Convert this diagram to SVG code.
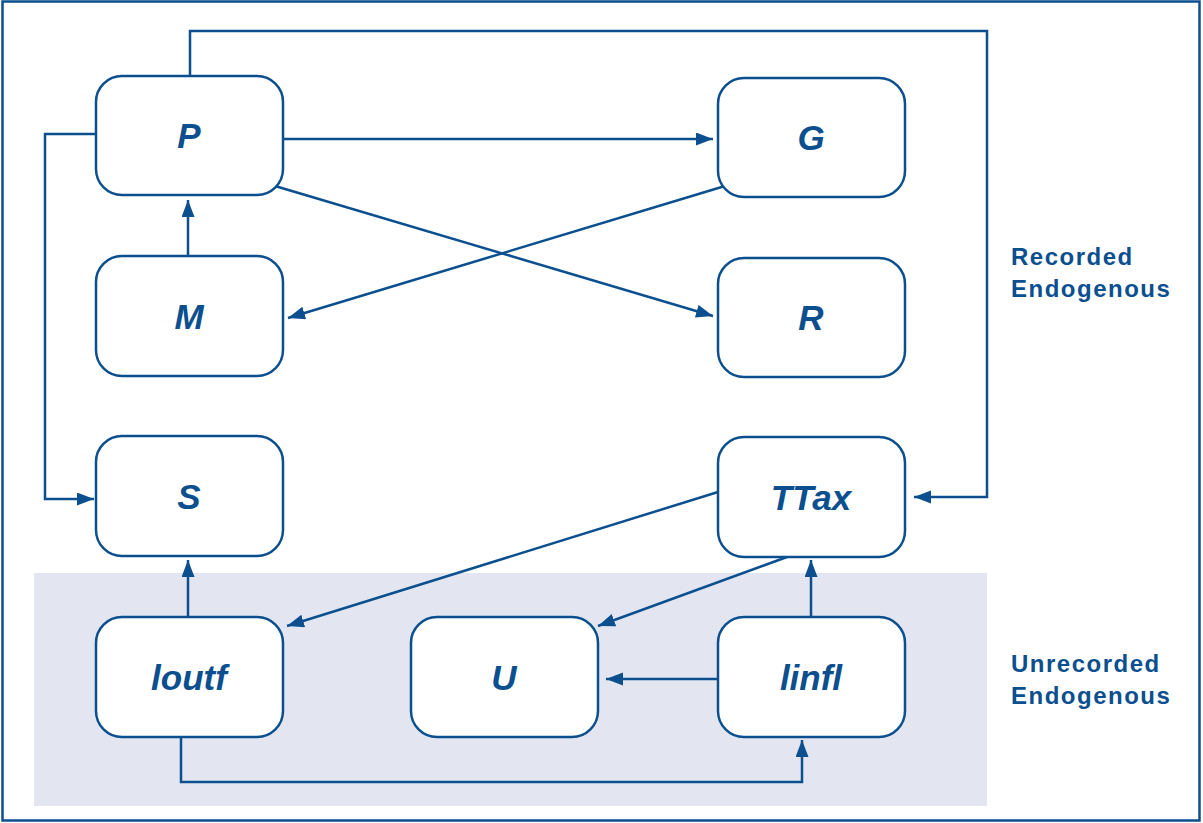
<svg xmlns="http://www.w3.org/2000/svg" width="1203" height="823" viewBox="0 0 1203 823">
<defs>
<style>
.box{fill:#fff;stroke:#0b4f8f;stroke-width:2.5}
.lbl{font-family:"Liberation Sans",Arial,sans-serif;font-weight:bold;font-style:italic;font-size:35px;fill:#0b4f8f;text-anchor:middle}
.side{font-family:"Liberation Sans",Arial,sans-serif;font-weight:bold;font-size:24px;letter-spacing:1.5px;fill:#0b4f8f}
.con{fill:none;stroke:#0b4f8f;stroke-width:2.5;marker-end:url(#ah)}
</style>
<marker id="ah" markerUnits="userSpaceOnUse" markerWidth="18" markerHeight="14" refX="17" refY="6.5" orient="auto">
<path d="M0,0 L17,6.5 L0,13 z" fill="#0b4f8f"/>
</marker>
</defs>
<rect x="0" y="0" width="1203" height="823" fill="#fff"/>
<rect x="2.5" y="1.5" width="1197" height="819" fill="none" stroke="#0b4f8f" stroke-width="2.5"/>
<rect x="34" y="573" width="953" height="233" fill="#e3e6f1"/>
<g id="connectors">
<path class="con" d="M190,76 V31 H987 V497 H914"/>
<path class="con" d="M96,134 H45 V499 H94"/>
<path class="con" d="M283,139 H713"/>
<path class="con" d="M275,186 L713,316"/>
<path class="con" d="M725,186 L288,318"/>
<path class="con" d="M188,256 V200"/>
<path class="con" d="M188,617 V560"/>
<path class="con" d="M718,492 L287,626"/>
<path class="con" d="M787,557 L598,626"/>
<path class="con" d="M718,679 H606"/>
<path class="con" d="M811,617 V560"/>
<path class="con" d="M181,737 V782 H802 V740"/>
</g>
<g id="P"><rect class="box" x="96" y="76" width="187" height="119" rx="26"/><text class="lbl" x="189" y="148">P</text></g>
<g id="G"><rect class="box" x="718" y="78" width="187" height="119" rx="26"/><text class="lbl" x="811" y="150">G</text></g>
<g id="M"><rect class="box" x="96" y="256" width="187" height="120" rx="26"/><text class="lbl" x="189" y="329">M</text></g>
<g id="R"><rect class="box" x="718" y="258" width="187" height="119" rx="26"/><text class="lbl" x="811" y="330">R</text></g>
<g id="S"><rect class="box" x="96" y="436" width="187" height="120" rx="26"/><text class="lbl" x="189" y="509">S</text></g>
<g id="TTax"><rect class="box" x="718" y="437" width="187" height="120" rx="26"/><text class="lbl" x="811" y="510">TTax</text></g>
<g id="Ioutf"><rect class="box" x="96" y="617" width="187" height="120" rx="26"/><text class="lbl" x="189" y="690">loutf</text></g>
<g id="U"><rect class="box" x="411" y="617" width="187" height="120" rx="26"/><text class="lbl" x="504" y="690">U</text></g>
<g id="Iinfl"><rect class="box" x="718" y="617" width="187" height="120" rx="26"/><text class="lbl" x="811" y="690">linfl</text></g>
<g id="legend">
<text class="side" x="1011" y="265">Recorded</text>
<text class="side" x="1011" y="297">Endogenous</text>
<text class="side" x="1011" y="672">Unrecorded</text>
<text class="side" x="1011" y="704">Endogenous</text>
</g>
</svg>
